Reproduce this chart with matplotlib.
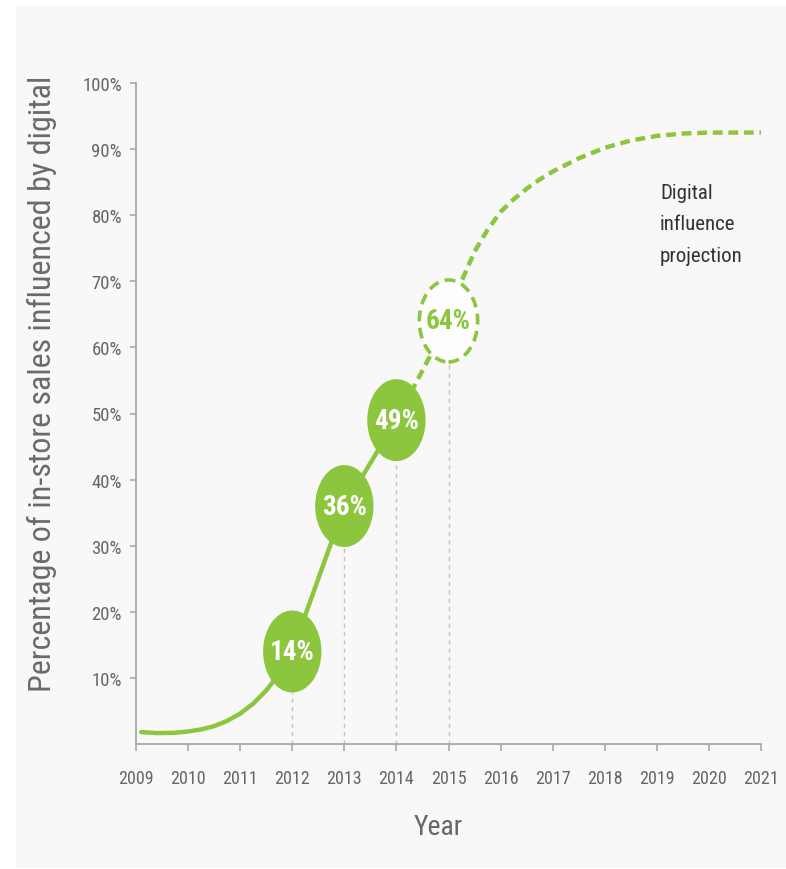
import matplotlib
matplotlib.use("Agg")
import matplotlib.pyplot as plt
from matplotlib import font_manager
from matplotlib.patches import Ellipse, Rectangle

# trend line, read year by year (solid = measured, dashed = projection)
solid_years = [2009.1, 2009.4, 2009.75, 2010, 2010.25, 2010.5, 2010.75, 2011,
               2011.25, 2011.5, 2011.75, 2012, 2013, 2014]
solid_vals = [1.8, 1.65, 1.7, 1.9, 2.2, 2.7, 3.5, 4.6,
              6.1, 8.1, 10.6, 14, 36, 49]
proj_years = [2014, 2015, 2015.25, 2015.5, 2015.75, 2016, 2016.25, 2016.5, 2016.75,
              2017, 2017.5, 2018, 2018.5, 2019, 2019.5, 2020, 2021]
proj_vals = [49, 64, 70, 74.5, 77.8, 80.5, 82.4, 84.0, 85.4,
             86.6, 88.6, 90.2, 91.3, 92.0, 92.35, 92.5, 92.5]

# highlighted data points
point_years = [2012, 2013, 2014, 2015]
point_vals = [14, 36, 49, 64]
point_projected = [False, False, False, True]

x_ticks = list(range(2009, 2022))
y_ticks = [10, 20, 30, 40, 50, 60, 70, 80, 90, 100]
y_ticklabels = [f"{v}%" for v in y_ticks]

GREEN = "#8cc63f"
PANEL = "#f8f8f8"
AXIS = "#a9a9a9"
TICK_TXT = "#666666"

# pick a narrow face if one is installed
fonts = font_manager.fontManager.ttflist
names = {f.name for f in fonts}
narrow = [f for f in fonts if f.stretch in ("condensed", "semi-condensed",
                                             "extra-condensed", "ultra-condensed")]
if "Liberation Sans Narrow" in names:
    FAMILY, STRETCH = "Liberation Sans Narrow", "normal"
elif "Roboto Condensed" in names:
    FAMILY, STRETCH = "Roboto Condensed", "normal"
elif narrow:
    FAMILY, STRETCH = narrow[0].name, narrow[0].stretch
elif "Roboto" in names:
    FAMILY, STRETCH = "Roboto", "normal"
else:
    FAMILY, STRETCH = "DejaVu Sans", "normal"
plt.rcParams["font.family"] = [FAMILY, "DejaVu Sans"]
plt.rcParams["font.stretch"] = STRETCH

W, H = 786, 870
fig = plt.figure(figsize=(W / 100, H / 100), dpi=100, facecolor="white")
fig.patches.append(Rectangle((16 / W, 0.001), 1 - 16 / W, 0.992,
                             transform=fig.transFigure, facecolor=PANEL,
                             edgecolor="none", zorder=-10))

ax = fig.add_axes([136 / W, 1 - 745 / H, (761 - 136) / W, (745 - 84) / H])
ax.set_facecolor("none")
ax.set_xlim(2009, 2021)
ax.set_ylim(0, 100)

for side in ("top", "right"):
    ax.spines[side].set_visible(False)
for side in ("left", "bottom"):
    ax.spines[side].set_color(AXIS)
    ax.spines[side].set_linewidth(1.3)

ax.set_xticks(x_ticks)
ax.set_xticklabels([str(y) for y in x_ticks])
ax.set_yticks(y_ticks)
ax.set_yticklabels(y_ticklabels)
ax.tick_params(axis="x", length=5, width=1.2, color=AXIS, pad=13,
               labelsize=13, labelcolor=TICK_TXT)
ax.tick_params(axis="y", length=4, width=1.2, color=AXIS, pad=6,
               labelsize=13.5, labelcolor=TICK_TXT)

ax.plot(solid_years, solid_vals, color=GREEN, lw=3.2, solid_capstyle="round", zorder=2)
ax.plot(proj_years, proj_vals, color=GREEN, lw=3.2, dashes=(2.2, 1.3), zorder=2)

ew, eh = 1.12, 12.4
for yr, val, proj in zip(point_years, point_vals, point_projected):
    ax.plot([yr, yr], [0, val - eh / 2], color="#c4c4c4", lw=1, dashes=(3, 3), zorder=1)
    if proj:
        ax.add_patch(Ellipse((yr, val), ew, eh, facecolor="#fefefe", edgecolor=GREEN,
                             lw=2.6, linestyle=(0, (3, 1.8)), zorder=3))
        txt_color = GREEN
    else:
        ax.add_patch(Ellipse((yr, val), ew, eh, facecolor=GREEN, edgecolor="none", zorder=3))
        txt_color = "white"
    ax.text(yr, val, f"{val}%", color=txt_color, fontsize=19.5, fontweight="bold",
            ha="center", va="center", zorder=4)

ax.text(2019.06, 78.7, "Digital\ninfluence\nprojection", color="#333333",
        fontsize=15, ha="left", va="center", linespacing=1.85)

fig.text(42 / W, 1 - 384 / H, "Percentage of in-store sales influenced by digital",
         rotation=90, ha="center", va="center", fontsize=23, color="#6a6a6a")
fig.text(438 / W, 1 - 828 / H, "Year", ha="center", va="center",
         fontsize=20, color="#666666")

fig.savefig("out.png", dpi=100, facecolor=fig.get_facecolor())
